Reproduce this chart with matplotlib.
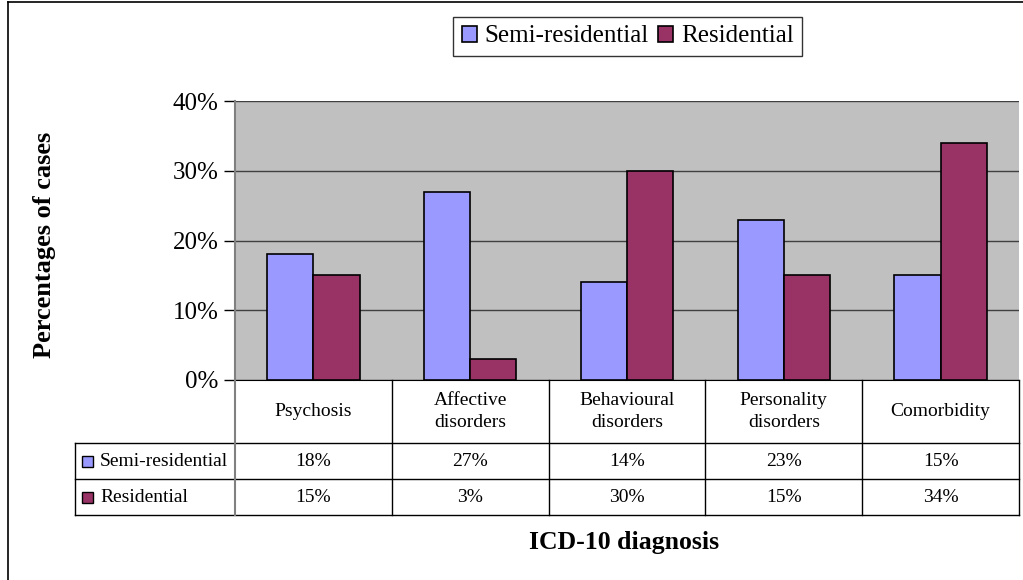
import numpy as np
import matplotlib.pyplot as plt
from matplotlib.patches import Rectangle
from matplotlib.lines import Line2D
from matplotlib.ticker import PercentFormatter

plt.rcParams['font.family'] = ['Liberation Serif', 'DejaVu Serif']

# data
categories = ['Psychosis', 'Affective\ndisorders', 'Behavioural\ndisorders',
              'Personality\ndisorders', 'Comorbidity']
series_names = ['Semi-residential', 'Residential']
semi_residential = [18, 27, 14, 23, 15]
residential = [15, 3, 30, 15, 34]
colors = ['#9999FF', '#993366']

W, H = 1023, 580
fig = plt.figure(figsize=(W / 100, H / 100), dpi=100)


def fx(px):
    return px / W


def fy(py):
    return 1 - py / H


# plot area in pixel coords
left, right, top, bottom = 235, 1019, 101, 380
ax = fig.add_axes([fx(left), fy(bottom), (right - left) / W, (bottom - top) / H])
ax.set_facecolor('#C0C0C0')

x = np.arange(len(categories))
bw = 0.295
ax.bar(x - bw / 2, semi_residential, bw, color=colors[0], edgecolor='black', linewidth=1.2,
       label=series_names[0], zorder=3)
ax.bar(x + bw / 2, residential, bw, color=colors[1], edgecolor='black', linewidth=1.2,
       label=series_names[1], zorder=3)

ax.set_xlim(-0.5, len(categories) - 0.5)
ax.set_ylim(0, 40)
ax.set_yticks([0, 10, 20, 30, 40])
ax.yaxis.set_major_formatter(PercentFormatter(decimals=0))
ax.tick_params(axis='y', direction='out', length=8, width=1, labelsize=18, pad=4)
ax.set_xticks([])
ax.grid(axis='y', color='#404040', linewidth=1, zorder=1)
for s in ['top', 'right']:
    ax.spines[s].set_visible(False)
ax.spines['bottom'].set_color('black')
ax.spines['left'].set_color('#808080')
ax.spines['left'].set_linewidth(1.5)

# data table below the plot (drawn in pixel layout)
head_bot = 443
row_edges = [443, 479, 515]
lab_left = 75
col_w = (right - left) / len(categories)
col_edges = [left + i * col_w for i in range(len(categories) + 1)]


def hline(x0, x1, y, color='black', lw=1.0):
    fig.add_artist(Line2D([fx(x0), fx(x1)], [fy(y), fy(y)], color=color, linewidth=lw))


def vline(x0, y0, y1, color='black', lw=1.0):
    fig.add_artist(Line2D([fx(x0), fx(x0)], [fy(y0), fy(y1)], color=color, linewidth=lw))


for y in row_edges:
    hline(lab_left, right, y)
vline(lab_left, row_edges[0], row_edges[-1])
for xe in col_edges[1:]:
    vline(xe, bottom, row_edges[-1])
vline(left, bottom, row_edges[-1], color='#808080', lw=1.5)

for i, cat in enumerate(categories):
    cx = (col_edges[i] + col_edges[i + 1]) / 2
    fig.text(fx(cx), fy((bottom + head_bot) / 2), cat, ha='center', va='center',
             fontsize=14, linespacing=1.4)

table_rows = [semi_residential, residential]
for r, (name, vals) in enumerate(zip(series_names, table_rows)):
    yc = (row_edges[r] + row_edges[r + 1]) / 2
    fig.patches.append(Rectangle((fx(82), fy(yc + 5.5)), 11 / W, 11 / H,
                                 transform=fig.transFigure, facecolor=colors[r],
                                 edgecolor='black', linewidth=1, zorder=10))
    fig.text(fx(100), fy(yc), name, ha='left', va='center', fontsize=14)
    for i, v in enumerate(vals):
        cx = (col_edges[i] + col_edges[i + 1]) / 2
        fig.text(fx(cx), fy(yc), f'{v}%', ha='center', va='center', fontsize=14)

# legend
fig.legend(loc='center', bbox_to_anchor=(fx(627.5), fy(36.5)), ncol=2,
           fontsize=18, frameon=True, fancybox=False, edgecolor='black',
           handlelength=0.6, handleheight=0.6, handletextpad=0.3, columnspacing=0.4,
           borderpad=0.35, borderaxespad=0)
fig.legends[0].get_frame().set_linewidth(1)

# axis titles
fig.text(fx(45), fy(245), 'Percentages of cases', rotation=90, ha='center', va='center',
         fontsize=19, fontweight='bold')
fig.text(fx(624), fy(543), 'ICD-10 diagnosis', ha='center', va='center',
         fontsize=18.5, fontweight='bold')

# outer chart border (left and top edges visible)
fig.add_artist(Line2D([fx(8), fx(8)], [0, fy(2)], color='black', linewidth=1.2))
fig.add_artist(Line2D([fx(8), 1], [fy(2), fy(2)], color='black', linewidth=1.2))

fig.savefig('out.png', dpi=100)
